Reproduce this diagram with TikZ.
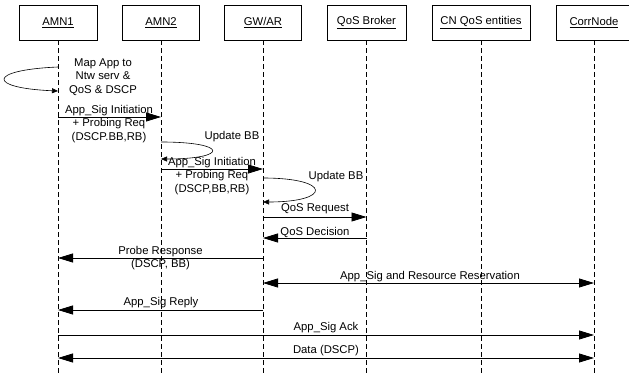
\documentclass[tikz,border=0pt]{standalone}
\usepackage{fontspec}
\setmainfont{Liberation Sans}
\usetikzlibrary{arrows.meta}
\begin{document}
\begin{tikzpicture}[x=1pt,y=-1pt,
  every node/.style={font=\fontsize{11.3}{13.8}\selectfont, inner sep=0pt},
  actor/.style={draw, line width=0.6pt, minimum height=35pt, inner sep=0pt},
  life/.style={dash pattern=on 5pt off 3pt, line width=0.6pt},
  msg/.style={line width=0.8pt, -{Triangle[length=15pt,width=9pt]}},
  bimsg/.style={line width=0.8pt, {Triangle[length=15pt,width=9pt]}-{Triangle[length=15pt,width=9pt]}},
  selfmsg/.style={line width=0.6pt, -{Triangle[length=6pt,width=5pt]}},
  lbl/.style={align=center}]
\useasboundingbox (0,0) rectangle (629,374);
% actors
\node[actor, minimum width=78pt] (amn1) at (58,22.5) {\underline{AMN1}};
\node[actor, minimum width=77pt] (amn2) at (161,22.5) {\underline{AMN2}};
\node[actor, minimum width=77pt] (gw) at (263,22.5) {\underline{GW/AR}};
\node[actor, minimum width=79pt] (qos) at (366.5,22.5) {\underline{QoS Broker}};
\node[actor, minimum width=98pt] (cn) at (481,22.5) {\underline{CN QoS entities}};
\node[actor, minimum width=76pt] (corr) at (594,22.5) {\underline{CorrNode}};
% lifelines
\foreach \n in {amn1,amn2,gw,qos,cn,corr}
  \draw[life] (\n.south) -- (\n.south |- 0,374);
% self message AMN1
\draw[selfmsg] (amn1.south |- 0,67) .. controls (-13,70) and (-13,88) .. (amn1.south |- 0,91);
\node[lbl] (tmap) at (103,77) {Map App to\\Ntw serv \&\\QoS \& DSCP};
% App_Sig Initiation 1
\draw[msg] (amn1.south |- 0,117) -- (amn2.south |- 0,117);
\node[lbl] (tinit1) at (109,124) {App\_Sig Initiation\\+ Probing Req\\(DSCP.BB,RB)};
% Update BB AMN2
\draw[selfmsg] (amn2.south |- 0,142) .. controls (229,142) and (229,159) .. (amn2.south |- 0,159);
\node (tupd1) at (232,137) {Update BB};
% App_Sig Initiation 2
\draw[msg] (amn2.south |- 0,169) -- (gw.south |- 0,169);
\node[lbl] (tinit2) at (212,176) {App\_Sig Initiation\\+ Probing Req\\(DSCP,BB,RB)};
% Update BB GW
\draw[selfmsg] (gw.south |- 0,178) .. controls (332,178) and (332,202) .. (gw.south |- 0,202);
\node (tupd2) at (336,177) {Update BB};
% QoS Request / Decision
\draw[msg] (gw.south |- 0,217) -- (qos.south |- 0,217);
\node (treq) at (315,209) {QoS Request};
\draw[msg] (qos.south |- 0,238) -- (gw.south |- 0,238);
\node (tdec) at (315,232) {QoS Decision};
% Probe Response
\draw[msg] (gw.south |- 0,258) -- (amn1.south |- 0,258);
\node[lbl] (tprobe) at (160.5,258) {Probe Response\\(DSCP, BB)};
% App_Sig and Resource Reservation
\draw[bimsg] (gw.south |- 0,283) -- (corr.south |- 0,283);
\node (tres) at (430,277) {App\_Sig and Resource Reservation};
% App_Sig Reply
\draw[msg] (gw.south |- 0,310) -- (amn1.south |- 0,310);
\node (trep) at (161,303) {App\_Sig Reply};
% App_Sig Ack
\draw[msg] (amn1.south |- 0,335) -- (corr.south |- 0,335);
\node (tack) at (326,328) {App\_Sig Ack};
% Data
\draw[bimsg] (amn1.south |- 0,358) -- (corr.south |- 0,358);
\node (tdata) at (326,351) {Data (DSCP)};
\end{tikzpicture}
\end{document}
